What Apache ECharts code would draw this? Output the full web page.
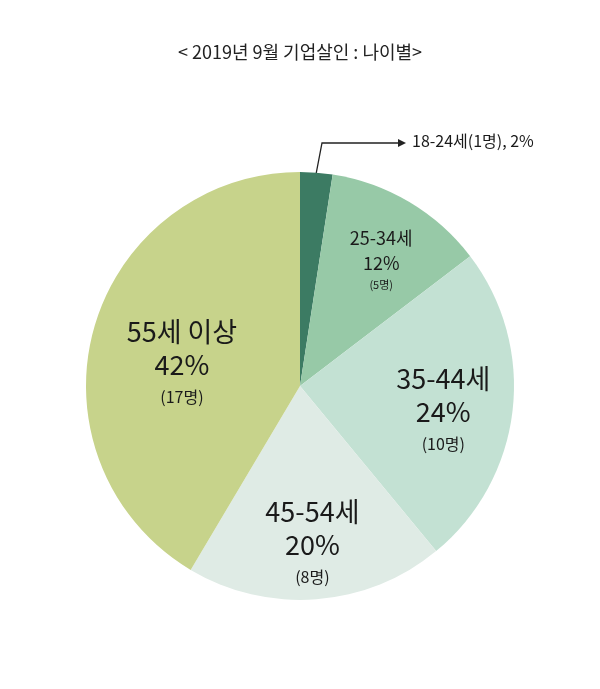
<!DOCTYPE html>
<html><head><meta charset="utf-8">
<script src="https://cdn.jsdelivr.net/npm/echarts@6/dist/echarts.min.js"></script>
<style>html,body{margin:0;padding:0;background:#fff}#c{width:600px;height:689px}</style>
</head><body><div id="c"></div>
<script>
var titleText = '< 2019년 9월 기업살인 : 나이별>';
var categories = ['18-24세', '25-34세', '35-44세', '45-54세', '55세 이상'];
var counts = [1, 5, 10, 8, 17];
var percents = ['2%', '12%', '24%', '20%', '42%'];
var colors = ['#3c7b63', '#97c9a7', '#c3e1d3', '#dfebe5', '#c7d38b'];

var FONT = '"Noto Sans CJK KR", "Noto Sans", sans-serif';
var big = {name:{fontSize:27,lineHeight:33,color:'#1a1a1a',fontFamily:FONT},
           pct:{fontSize:27,lineHeight:33,color:'#1a1a1a',fontFamily:FONT},
           cnt:{fontSize:16,lineHeight:31,color:'#1a1a1a',fontFamily:FONT}};
var small = {name:{fontSize:18,lineHeight:25,color:'#1a1a1a',fontFamily:FONT},
             pct:{fontSize:18,lineHeight:25,color:'#1a1a1a',fontFamily:FONT},
             cnt:{fontSize:11,lineHeight:18,color:'#1a1a1a',fontFamily:FONT}};
var offsets = [[0,0],[25,-32],[34,12],[4,48],[-12,7]];

var data = categories.map(function(c,i){
  var item = {name:c, value:counts[i], itemStyle:{color:colors[i]}};
  if (i === 0) {
    item.label = {show:false};
  } else {
    item.label = {show:true, position:'inside', offset:offsets[i],
      rich: i === 1 ? small : big,
      formatter: '{name|' + c + '}\n{pct|' + percents[i] + '}\n{cnt|(' + counts[i] + '명)}'};
  }
  return item;
});

var chart = echarts.init(document.getElementById('c'));
chart.setOption({
  animation:false,
  title:{text:titleText, left:'center', top:38,
    textStyle:{fontSize:18, fontWeight:'normal', color:'#222', fontFamily:FONT}},
  series:[{
    type:'pie', center:[300,386], radius:[0,214], startAngle:90, clockwise:true,
    silent:true, labelLine:{show:false}, data:data
  }],
  graphic:[
    {type:'polyline', shape:{points:[[313,190],[322,143],[398,143]]}, style:{stroke:'#222', lineWidth:1.3, fill:null}},
    {type:'circle', shape:{cx:313, cy:190, r:3}, style:{fill:'#222'}},
    {type:'polygon', shape:{points:[[398,139],[406,143],[398,147]]}, style:{fill:'#222'}},
    {type:'text', left:412, top:133, style:{text:'18-24세(1명), 2%', fontSize:16, fill:'#1a1a1a', fontFamily:FONT}}
  ]
});
</script></body></html>
